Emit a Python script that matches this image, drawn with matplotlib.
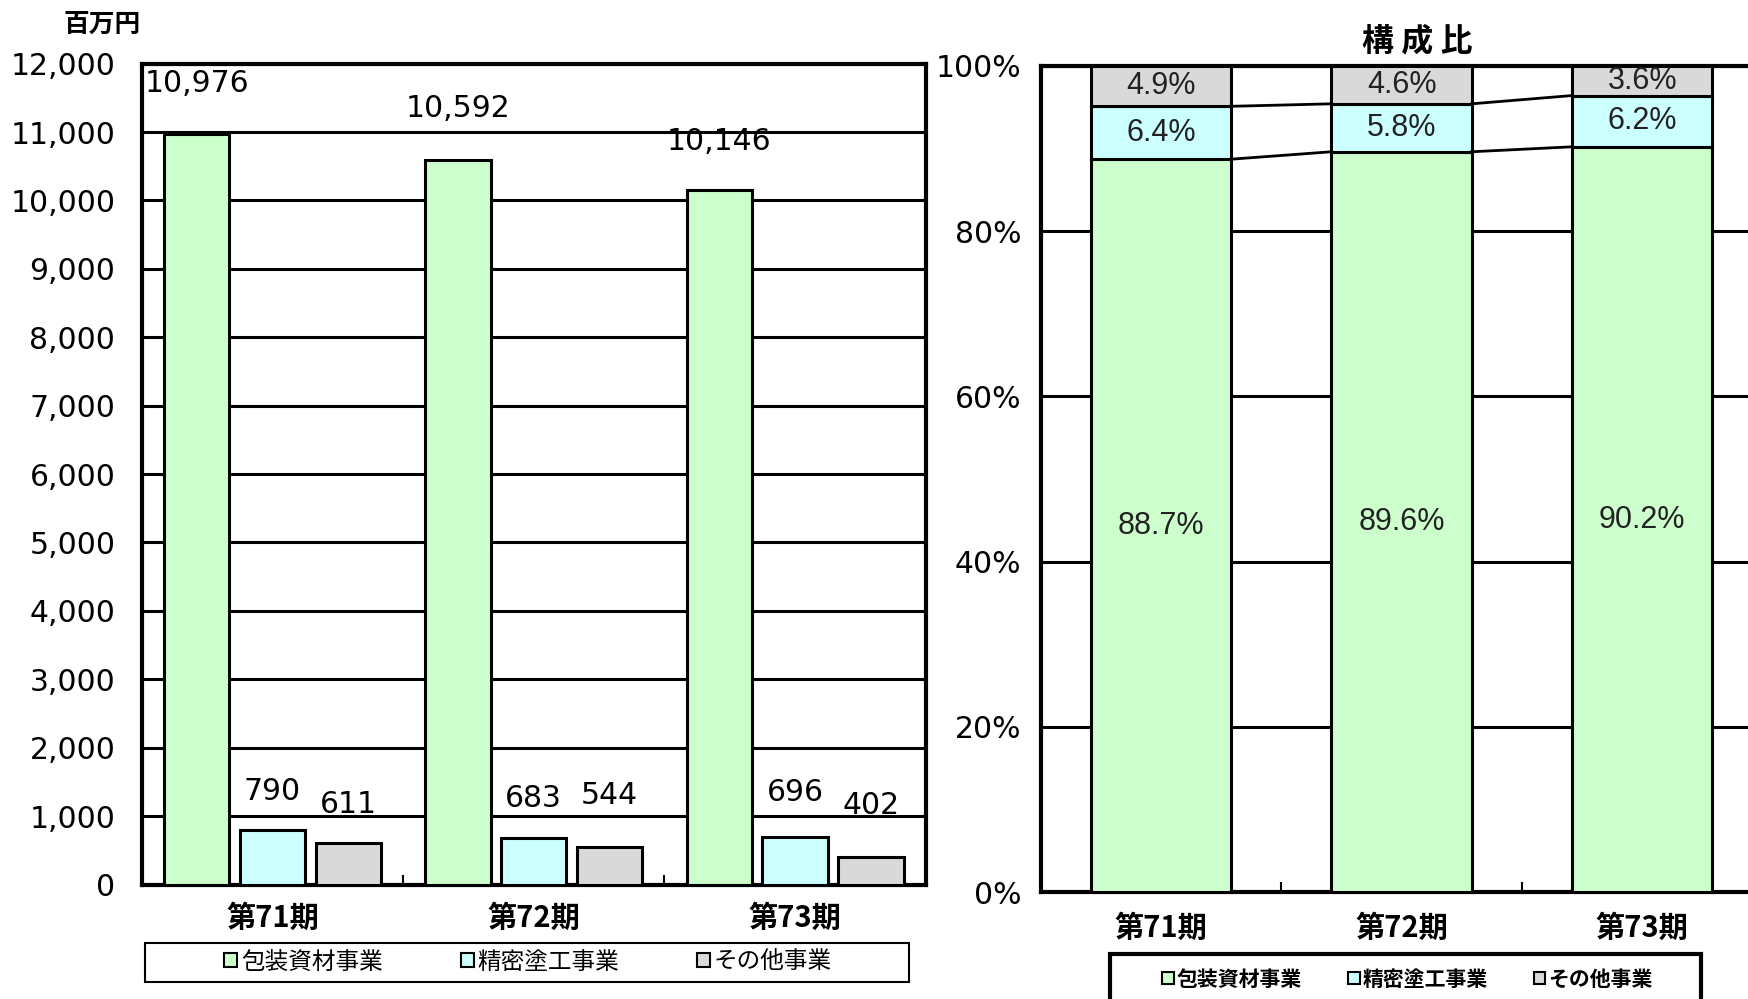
import matplotlib
matplotlib.use("Agg")
import matplotlib.pyplot as plt
import numpy as np
from matplotlib.patches import Patch, Rectangle
from matplotlib.font_manager import FontProperties

# ---- data ----
categories = ['第71期', '第72期', '第73期']
series_names = ['包装資材事業', '精密塗工事業', 'その他事業']
sales_packaging = [10976, 10592, 10146]
sales_coating = [790, 683, 696]
sales_other = [611, 544, 402]
share_packaging = [88.7, 89.6, 90.2]
share_coating = [6.4, 5.8, 6.2]
share_other = [4.9, 4.6, 3.6]
yticks_left = list(range(0, 12001, 1000))
yticks_right = list(range(0, 101, 20))

# ---- style ----
colors = ['#CCFFCC', '#CCFFFF', '#D9D9D9']
label_dy = [[36, 37, 35.5], [27.7, 28, 32], [27.7, 37.4, 37]]  # points above bar tops
JP = ['Noto Sans CJK JP', 'DejaVu Sans']
plt.rcParams['font.family'] = ['DejaVu Sans', 'Noto Sans CJK JP']

W, H = 1749, 999
fig = plt.figure(figsize=(W / 100, H / 100), dpi=100)

# ================= left chart =================
ax1 = fig.add_axes([141.7 / W, 1 - 884.5 / H, (925.8 - 141.7) / W, (884.5 - 63.6) / H])
x = np.arange(len(categories))
bw = 0.25
offs = [-0.29, 0.0, 0.29]
all_sales = [sales_packaging, sales_coating, sales_other]
for s, (vals, off, col) in enumerate(zip(all_sales, offs, colors)):
    ax1.bar(x + off, vals, width=bw, color=col, edgecolor='black', linewidth=2.2, zorder=3)
    for i, v in enumerate(vals):
        ax1.annotate(f'{v:,}', (x[i] + off, v), xytext=(0, label_dy[s][i]),
                     textcoords='offset points', ha='center', va='center',
                     fontsize=21.5, color='black', zorder=5, annotation_clip=False)

ax1.set_xlim(-0.5, 2.5)
ax1.set_ylim(0, 12000)
ax1.set_yticks(yticks_left)
ax1.set_yticklabels([f'{v:,}' for v in yticks_left])
ax1.yaxis.grid(True, color='black', linewidth=2.2)
ax1.set_axisbelow(True)
ax1.tick_params(axis='y', length=0, pad=19, labelsize=21.5)
ax1.set_xticks(x)
ax1.set_xticklabels(categories, fontsize=21, fontweight='bold', family=JP)
ax1.tick_params(axis='x', which='major', length=0, pad=13)
ax1.set_xticks([0.5, 1.5], minor=True)
ax1.tick_params(axis='x', which='minor', direction='in', length=7, width=1.5)
for sp in ax1.spines.values():
    sp.set_linewidth(3)
    sp.set_color('black')

fig.text(102 / W, 1 - 24.5 / H, '百万円', ha='center', va='center', fontsize=18.5,
         family=JP, fontweight='bold')

# legend left
handles = [Patch(facecolor=c, edgecolor='black', linewidth=1.5) for c in colors]
fig.legend(handles, series_names, loc='center', bbox_to_anchor=(528 / W, 1 - 962 / H),
           ncol=3, frameon=False, handlelength=0.55, handleheight=0.55,
           handletextpad=0.15, columnspacing=3.3,
           prop=FontProperties(family=JP, size=17))
fig.patches.append(Rectangle((145 / W, 1 - 981.6 / H), (909 - 145) / W, 39 / H,
                             transform=fig.transFigure, fill=False,
                             edgecolor='black', linewidth=1.5))

# ================= right chart =================
ax2 = fig.add_axes([1040.7 / W, 1 - 892.3 / H, (1762.5 - 1040.7) / W, (892.3 - 65.8) / H])
bw2 = 0.583
shares = [share_packaging, share_coating, share_other]
bottom = np.zeros(len(categories))
tops = []
for vals, col in zip(shares, colors):
    vals = np.array(vals)
    ax2.bar(x, vals, width=bw2, bottom=bottom, color=col, edgecolor='black',
            linewidth=2.2, zorder=3)
    for i, v in enumerate(vals):
        ax2.text(x[i], bottom[i] + v / 2, f'{v:.1f}%', ha='center', va='center',
                 fontsize=22, family=['Liberation Sans'], color='#222222', zorder=5)
    bottom = bottom + vals
    tops.append(bottom.copy())

# series lines
for lvl in tops[:2]:
    for i in range(len(categories) - 1):
        ax2.plot([x[i] + bw2 / 2, x[i + 1] - bw2 / 2], [lvl[i], lvl[i + 1]],
                 color='black', linewidth=2, zorder=4)

ax2.set_xlim(-0.5, 2.5)
ax2.set_ylim(0, 100)
ax2.set_yticks(yticks_right)
ax2.set_yticklabels([f'{v}%' for v in yticks_right])
ax2.yaxis.grid(True, color='black', linewidth=2.2)
ax2.set_axisbelow(True)
ax2.tick_params(axis='y', length=0, pad=14, labelsize=21.5)
ax2.set_xticks(x)
ax2.set_xticklabels(categories, fontsize=21, fontweight='bold', family=JP)
ax2.tick_params(axis='x', which='major', length=0, pad=15)
ax2.set_xticks([0.5, 1.5], minor=True)
ax2.tick_params(axis='x', which='minor', direction='in', length=7, width=1.5)
for sp in ax2.spines.values():
    sp.set_linewidth(3)
    sp.set_color('black')

fig.text(1417 / W, 1 - 41 / H, '構 成 比', ha='center', va='center', fontsize=23,
         fontweight='bold', family=JP)

fig.legend(handles, series_names, loc='center', bbox_to_anchor=(1407.6 / W, 1 - 979 / H),
           ncol=3, frameon=False, handlelength=0.55, handleheight=0.55,
           handletextpad=0.15, columnspacing=2.2,
           prop=FontProperties(family=JP, size=15, weight='bold'))
fig.patches.append(Rectangle((1110 / W, -0.03), (1701 - 1110) / W, 0.03 + 1 - 953.7 / H,
                             transform=fig.transFigure, fill=False,
                             edgecolor='black', linewidth=3))

fig.savefig('out.png', dpi=100)
